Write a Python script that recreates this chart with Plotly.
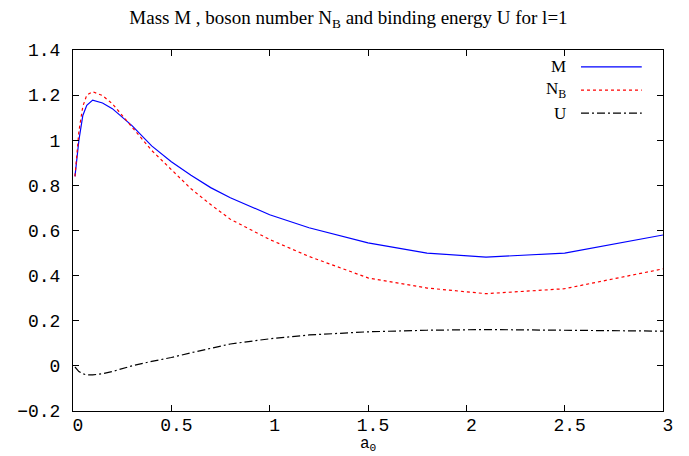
import plotly.graph_objects as go

a0 = [0.01, 0.02, 0.03, 0.05, 0.07, 0.1, 0.15, 0.2, 0.3, 0.4, 0.5, 0.6, 0.7, 0.8,
      1.0, 1.2, 1.5, 1.8, 2.1, 2.5, 3.0]
mass = [0.84, 0.93, 1.00, 1.11, 1.155, 1.178, 1.165, 1.14, 1.065, 0.975, 0.905, 0.845,
        0.79, 0.745, 0.67, 0.612, 0.545, 0.50, 0.482, 0.50, 0.58]
boson = [0.84, 0.95, 1.04, 1.15, 1.20, 1.215, 1.198, 1.162, 1.06, 0.955, 0.87, 0.785,
         0.715, 0.65, 0.56, 0.485, 0.39, 0.345, 0.32, 0.342, 0.43]
binding = [-0.005, -0.015, -0.025, -0.035, -0.04, -0.04, -0.035, -0.025, 0.0, 0.02,
           0.037, 0.058, 0.078, 0.097, 0.12, 0.137, 0.151, 0.158, 0.161, 0.159, 0.154]

xticks = [0, 0.5, 1, 1.5, 2, 2.5, 3]
xticklabels = ["0", "0.5", "1", "1.5", "2", "2.5", "3"]
yticks = [-0.2, 0, 0.2, 0.4, 0.6, 0.8, 1.0, 1.2, 1.4]
yticklabels = ["\u22120.2", "0", "0.2", "0.4", "0.6", "0.8", "1", "1.2", "1.4"]

names = ["M", "N<sub>B</sub>", "U"]
colors = ["#0000ff", "#ff0000", "#000000"]
dashes = ["solid", "3px,3px", "8px,3px,2px,3px"]
series = [mass, boson, binding]

fig = go.Figure()
for ys, nm, c, d in zip(series, names, colors, dashes):
    fig.add_trace(go.Scatter(x=a0, y=ys, mode="lines", name=nm,
                             line=dict(color=c, width=1.2, dash=d),
                             showlegend=False))

# gnuplot-style key: text on the left, sample on the right
key_y = [0.953, 0.889, 0.825]
for nm, c, d, ky in zip(names, colors, dashes, key_y):
    fig.add_annotation(x=0.839, y=ky, xref="paper", yref="paper", text=nm,
                       showarrow=False, xanchor="right", yanchor="middle",
                       font=dict(family="Liberation Serif", size=17, color="black"))
    fig.add_shape(type="line", xref="paper", yref="paper", x0=0.861, x1=0.964,
                  y0=ky, y1=ky, line=dict(color=c, width=1.3, dash=d))

mono = dict(family="Liberation Mono", size=18, color="black")

# x-axis title (placed as annotation so it does not push the margin)
fig.add_annotation(x=0.5, y=-0.094, xref="paper", yref="paper",
                   text="a<sub>0</sub>", showarrow=False,
                   xanchor="center", yanchor="middle",
                   font=dict(family="Liberation Mono", size=16, color="black"),
                   borderpad=0)

# the page body has an 8px margin, so the figure is sized 8px smaller
fig.update_layout(
    width=681, height=448,
    margin=dict(l=65, r=26, t=42, b=45),
    paper_bgcolor="white", plot_bgcolor="white",
    title=dict(text="Mass M , boson number N<sub>B</sub> and binding energy U for l=1",
               x=0.5, xanchor="center", y=0.995, yanchor="top",
               font=dict(family="Liberation Serif", size=19, color="black")),
)
fig.update_xaxes(range=[0, 3], tickvals=xticks, ticktext=xticklabels,
                 showgrid=False, zeroline=False, showline=True, linecolor="black",
                 linewidth=1, mirror="ticks", ticks="inside", ticklen=6,
                 tickcolor="black", tickfont=mono, ticklabelshift=5,
                 ticklabelstandoff=-3, automargin=False)
fig.update_yaxes(range=[-0.2, 1.4], tickvals=yticks, ticktext=yticklabels,
                 showgrid=False, zeroline=False, showline=True, linecolor="black",
                 linewidth=1, mirror="ticks", ticks="inside", ticklen=6,
                 tickcolor="black", tickfont=mono, ticklabelstandoff=8,
                 automargin=False)

fig.write_html("out.html")
